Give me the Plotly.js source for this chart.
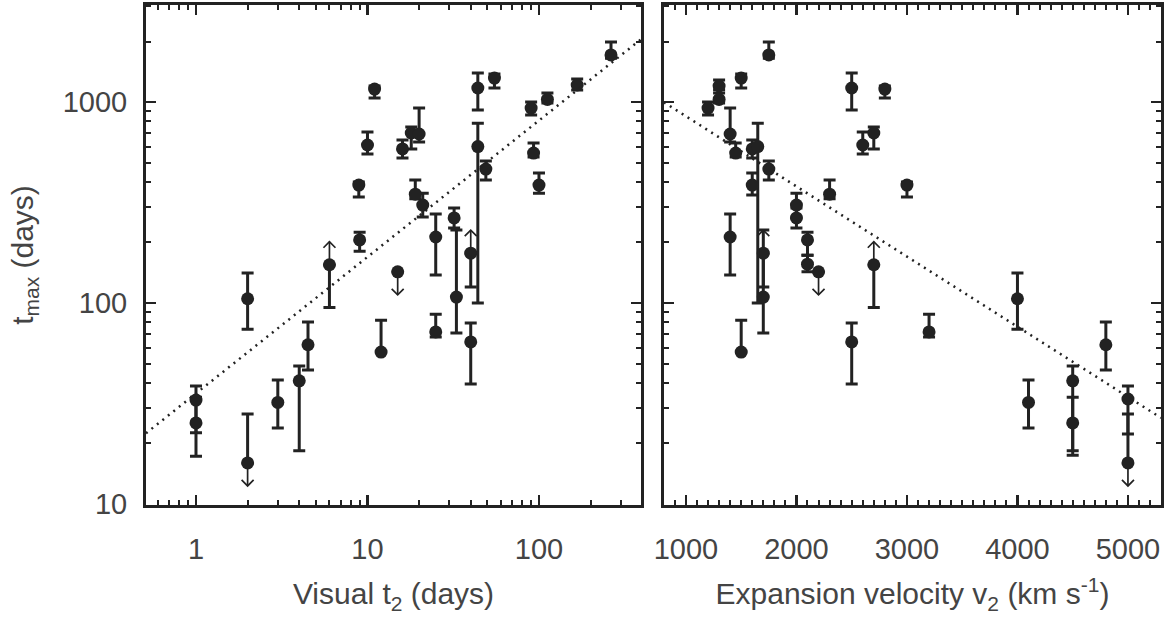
<!DOCTYPE html>
<html>
<head>
<meta charset="utf-8">
<script src="https://cdn.plot.ly/plotly-3.0.1.min.js"></script>
<style>html,body{margin:0;padding:0;background:#fff;}#chart{width:1169px;height:617px;}</style>
</head>
<body>
<div id="chart"></div>
<script>
// ---- Left panel: visual t2 (days) vs t_max (days) ----
const leftT2    = [1, 1, 2, 2, 3, 4, 4.5, 6, 8.9, 9, 10, 11, 12, 15, 16, 18, 19, 20, 21, 25, 25, 32, 33, 40, 40, 44, 44, 49, 55, 90, 93, 100, 112, 167, 263];
const leftTmax  = [32.9, 25.3, 105, 16, 32, 41, 62, 155, 386, 206, 611, 1160, 57, 143, 584, 701, 348, 693, 307, 213, 71.8, 265, 107, 177, 64, 1174, 600, 464, 1316, 933, 557, 386, 1030, 1215, 1715];
const leftHi    = [38.6, 34, 141, 28, 41.4, 48.6, 80.4, 155, 400, 225, 709, 1200, 82, 143, 647, 751, 409, 933, 352, 277, 88, 297, 231, 177, 79.5, 1394, 785, 508, 1380, 1000, 625, 444, 1109, 1301, 1990];
const leftLo    = [22.6, 17.3, 74, 16, 23.9, 18.4, 46.4, 95, 337, 181, 551, 1047, 57, 143, 526, 584, 330, 632, 268, 138, 67.8, 236, 71, 120, 39.5, 912, 100, 409, 1174, 862, 532, 352, 989, 1147, 1650];
const leftLimit = ['', '', '', 'down', '', '', '', 'up', '', '', '', '', '', 'down', '', '', '', '', '', '', '', '', '', 'up', '', '', '', '', '', '', '', '', '', '', ''];

// ---- Right panel: expansion velocity v2 (km/s) vs t_max (days) ----
const rightV2    = [1200, 1300, 1300, 1400, 1400, 1450, 1500, 1500, 1600, 1600, 1650, 1700, 1700, 1750, 1750, 2000, 2000, 2100, 2100, 2200, 2300, 2500, 2500, 2600, 2700, 2700, 2800, 3000, 3200, 4000, 4100, 4500, 4500, 4800, 5000, 5000];
const rightTmax  = [933, 1030, 1201, 693, 213, 557, 1316, 57, 584, 386, 600, 177, 107, 1715, 464, 307, 265, 206, 156, 143, 348, 1174, 64, 611, 701, 155, 1160, 386, 71.8, 105, 32, 41, 25.3, 62, 33.3, 16];
const rightHi    = [1000, 1109, 1287, 933, 277, 625, 1380, 82, 647, 444, 785, 177, 231, 1990, 508, 352, 297, 225, 173, 143, 409, 1394, 79.5, 709, 751, 155, 1200, 400, 88, 141, 41.4, 48.6, 34, 80.4, 38.6, 28];
const rightLo    = [862, 989, 1150, 632, 138, 532, 1174, 57, 526, 345, 100, 120, 71, 1650, 409, 268, 236, 173, 143, 143, 330, 912, 39.5, 551, 584, 95, 1047, 337, 67.8, 74, 23.9, 18.4, 17.5, 46.4, 22.3, 16];
const rightLimit = ['', '', '', '', '', '', '', '', '', '', '', 'up', '', '', '', '', '', '', '', 'down', '', '', '', '', '', 'up', '', '', '', '', '', '', '', '', '', 'down'];

// Fits: left log10(tmax) = a + b*log10(t2); right log10(tmax) = a + b*v2
const leftFit  = [1.55, 0.679];
const rightFit = [3.278, -0.000349];

// Tick labels
const yTickVals = [10, 100, 1000];
const leftXTickVals = [1, 10, 100];
const rightXTickVals = [1000, 2000, 3000, 4000, 5000];

const INK = '#222';
const TXT = '#444';
const FONT = 'Liberation Sans, Arial, sans-serif';

const yRangeLog = [0.995, 3.4826];
const leftXRangeLog = [-0.2915, 2.595];
const rightXRange = [801, 5299];

// pixel scales (for drawing limit-arrow heads of constant pixel size)
const PX_PER_DECADE_Y = 500 / (yRangeLog[1] - yRangeLog[0]);
const PX_PER_DECADE_XL = 495 / (leftXRangeLog[1] - leftXRangeLog[0]);
const PX_PER_UNIT_XR = 497 / (rightXRange[1] - rightXRange[0]);
const ARROW_PX = 23, HEAD_H_PX = 6, HEAD_W_PX = 6;

function errs(vals, hi, lo) {
  return {
    type: 'data', symmetric: false,
    array: vals.map((v, i) => Math.max(hi[i] - v, 0)),
    arrayminus: vals.map((v, i) => Math.max(v - lo[i], 0)),
    color: INK, thickness: 3, width: 6
  };
}

// Build limit arrows (shaft + open chevron head) as line segments
function arrowTrace(xs, ys, lims, xlog, xa, ya) {
  const X = [], Y = [];
  lims.forEach((l, i) => {
    if (!l) return;
    const dir = l === 'up' ? 1 : -1;
    const y0 = ys[i];
    const yTip = y0 * Math.pow(10, dir * ARROW_PX / PX_PER_DECADE_Y);
    const yBack = yTip * Math.pow(10, -dir * HEAD_H_PX / PX_PER_DECADE_Y);
    let xL, xR;
    if (xlog) {
      const f = Math.pow(10, HEAD_W_PX / PX_PER_DECADE_XL);
      xL = xs[i] / f; xR = xs[i] * f;
    } else {
      const d = HEAD_W_PX / PX_PER_UNIT_XR;
      xL = xs[i] - d; xR = xs[i] + d;
    }
    X.push(xs[i], xs[i], null, xL, xs[i], xR, null);
    Y.push(y0, yTip, null, yBack, yTip, yBack, null);
  });
  return {
    type: 'scatter', mode: 'lines', x: X, y: Y, xaxis: xa, yaxis: ya,
    line: {color: INK, width: 1.7}, connectgaps: false, showlegend: false, hoverinfo: 'skip'
  };
}

const traces = [
  arrowTrace(leftT2, leftTmax, leftLimit, true, 'x', 'y'),
  arrowTrace(rightV2, rightTmax, rightLimit, false, 'x2', 'y2'),
  {
    type: 'scatter', mode: 'markers', x: leftT2, y: leftTmax, xaxis: 'x', yaxis: 'y',
    marker: {color: INK, size: 13}, error_y: errs(leftTmax, leftHi, leftLo),
    showlegend: false, hoverinfo: 'x+y'
  },
  {
    type: 'scatter', mode: 'markers', x: rightV2, y: rightTmax, xaxis: 'x2', yaxis: 'y2',
    marker: {color: INK, size: 13}, error_y: errs(rightTmax, rightHi, rightLo),
    showlegend: false, hoverinfo: 'x+y'
  }
];

// fit lines across each panel
traces.push({
  type: 'scatter', mode: 'lines', xaxis: 'x', yaxis: 'y',
  x: leftXRangeLog.map(v => Math.pow(10, v)),
  y: leftXRangeLog.map(v => Math.pow(10, leftFit[0] + leftFit[1] * v)),
  line: {color: INK, width: 2.5, dash: '2px,5px'}, showlegend: false, hoverinfo: 'skip'
});
traces.push({
  type: 'scatter', mode: 'lines', xaxis: 'x2', yaxis: 'y2',
  x: rightXRange, y: rightXRange.map(v => Math.pow(10, rightFit[0] + rightFit[1] * v)),
  line: {color: INK, width: 2.5, dash: '2px,5px'}, showlegend: false, hoverinfo: 'skip'
});

const axisCommon = {
  showline: true, linecolor: INK, linewidth: 3, mirror: 'ticks',
  ticks: 'inside', ticklen: 10, tickwidth: 2.5, tickcolor: INK,
  showgrid: false, zeroline: false,
  tickfont: {family: FONT, size: 29, color: TXT}
};
const titleFont = {family: FONT, size: 30, color: TXT};

const layout = {
  width: 1169, height: 617,
  margin: {l: 146, r: 8, t: 5, b: 112},
  paper_bgcolor: '#fff', plot_bgcolor: '#fff',
  font: {family: FONT, color: TXT},
  showlegend: false,
  xaxis: Object.assign({}, axisCommon, {
    type: 'log', domain: [0, 0.4877], range: leftXRangeLog, anchor: 'y',
    tickmode: 'array', tickvals: leftXTickVals, ticktext: leftXTickVals.map(String),
    minor: {dtick: 'D1', ticks: 'inside', ticklen: 5, tickwidth: 2, tickcolor: INK, showgrid: false},
    ticklabelstandoff: 16,
    title: {text: 'Visual t<sub>2</sub> (days)', font: titleFont, standoff: 20},
    automargin: false
  }),
  xaxis2: Object.assign({}, axisCommon, {
    type: 'linear', domain: [0.5103, 1], range: rightXRange, anchor: 'y2',
    tickmode: 'array', tickvals: rightXTickVals, ticktext: rightXTickVals.map(String),
    minor: {dtick: 100, tick0: 0, ticks: 'inside', ticklen: 5, tickwidth: 2, tickcolor: INK, showgrid: false},
    ticklabelstandoff: 16,
    title: {text: 'Expansion velocity v<sub>2</sub> (km s<sup>-1</sup>)', font: titleFont, standoff: 20},
    automargin: false
  }),
  yaxis: Object.assign({}, axisCommon, {
    type: 'log', domain: [0, 1], range: yRangeLog, anchor: 'x',
    tickmode: 'array', tickvals: yTickVals, ticktext: yTickVals.map(String),
    minor: {dtick: 'D1', ticks: 'inside', ticklen: 5, tickwidth: 2, tickcolor: INK, showgrid: false},
    ticklabelstandoff: 10,
    title: {text: 't<sub>max</sub> (days)', font: titleFont, standoff: 21},
    automargin: true
  }),
  yaxis2: Object.assign({}, axisCommon, {
    type: 'log', domain: [0, 1], range: yRangeLog, anchor: 'x2', matches: 'y',
    tickmode: 'array', tickvals: yTickVals, showticklabels: false,
    minor: {dtick: 'D1', ticks: 'inside', ticklen: 5, tickwidth: 2, tickcolor: INK, showgrid: false}
  })
};

Plotly.newPlot('chart', traces, layout, {displayModeBar: false, staticPlot: true});
</script>
</body>
</html>
